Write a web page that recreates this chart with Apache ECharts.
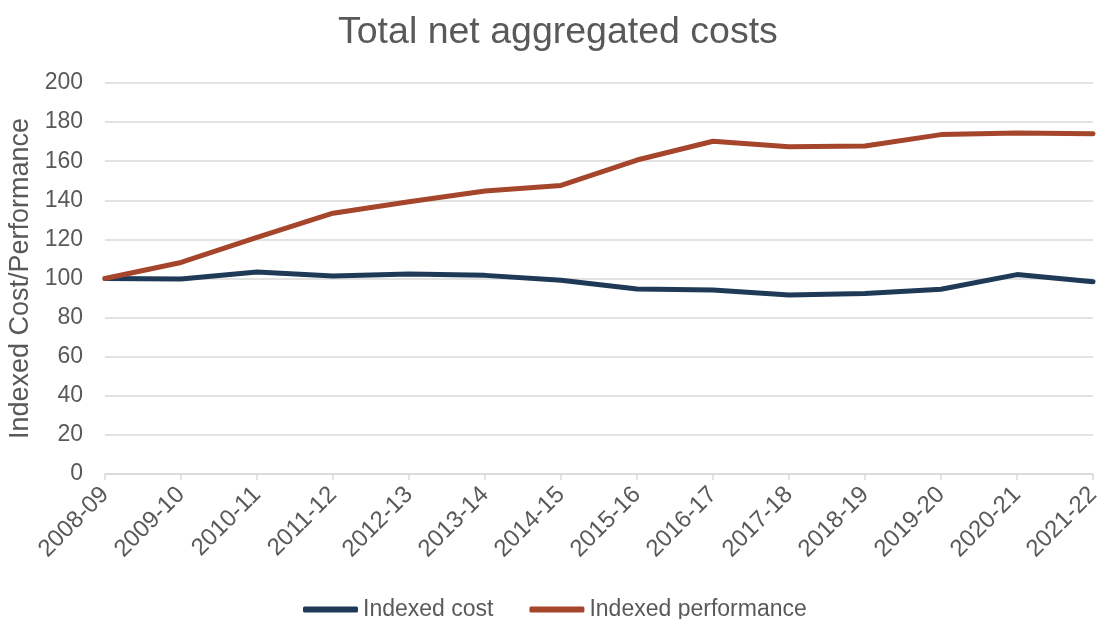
<!DOCTYPE html>
<html>
<head>
<meta charset="utf-8">
<script src="https://cdn.jsdelivr.net/npm/echarts@6/dist/echarts.min.js"></script>
<style>
html, body { margin: 0; padding: 0; background: #ffffff; }
#chart { width: 1098px; height: 619px; }
</style>
</head>
<body>
<div id="chart"></div>
<script>
var years = ['2008-09', '2009-10', '2010-11', '2011-12', '2012-13', '2013-14', '2014-15',
	'2015-16', '2016-17', '2017-18', '2018-19', '2019-20', '2020-21', '2021-22'];
var indexed_cost = [100, 99.8, 103.3, 101.3, 102.3, 101.6, 99.1, 94.6, 94.1, 91.5, 92.3, 94.5, 102, 98.3];
var indexed_performance = [100, 108.2, 121, 133.4, 139.3, 144.8, 147.6, 160.6, 170.2, 167.4, 167.8, 173.6, 174.4, 174];

var text_color = '#595959';
var font = 'Liberation Sans, Arial, sans-serif';

var myChart = echarts.init(document.getElementById('chart'));

var option = {
	animation: false,
	backgroundColor: '#ffffff',
	title: {
		text: 'Total net aggregated costs',
		left: 333,
		top: 9,
		textStyle: { color: text_color, fontSize: 37.5, fontWeight: 'normal', fontFamily: font }
	},
	legend: {
		top: 593,
		left: 298,
		icon: 'roundRect',
		itemWidth: 55,
		itemHeight: 6,
		itemGap: 36,
		textStyle: { color: text_color, fontSize: 23, fontFamily: font },
		data: ['Indexed cost', 'Indexed performance']
	},
	grid: { left: 105, right: 5, top: 83, bottom: 145, containLabel: false, outerBoundsMode: 'none' },
	xAxis: {
		type: 'category',
		boundaryGap: false,
		data: years,
		axisLine: { lineStyle: { color: '#d9d9d9', width: 1.5 } },
		axisTick: { show: true, length: 6, lineStyle: { color: '#d9d9d9', width: 1.5 } },
		axisLabel: { rotate: 45, margin: 17, color: text_color, fontSize: 24, fontFamily: font, interval: 0 }
	},
	yAxis: {
		type: 'value',
		min: 0,
		max: 200,
		interval: 20,
		name: 'Indexed Cost/Performance',
		nameLocation: 'middle',
		nameGap: 71,
		nameTextStyle: { color: text_color, fontSize: 27, fontFamily: font },
		axisLine: { show: false },
		axisTick: { show: false },
		axisLabel: { color: text_color, fontSize: 23, fontFamily: font, margin: 22 },
		splitLine: { lineStyle: { color: '#d9d9d9', width: 1.5 } }
	},
	series: [
		{
			name: 'Indexed cost',
			type: 'line',
			data: indexed_cost,
			symbol: 'none',
			color: '#1F3A56',
			lineStyle: { width: 5, color: '#1F3A56', cap: 'round' }
		},
		{
			name: 'Indexed performance',
			type: 'line',
			data: indexed_performance,
			symbol: 'none',
			color: '#A5452B',
			lineStyle: { width: 5, color: '#A5452B', cap: 'round' }
		}
	]
};

myChart.setOption(option);
</script>
</body>
</html>
